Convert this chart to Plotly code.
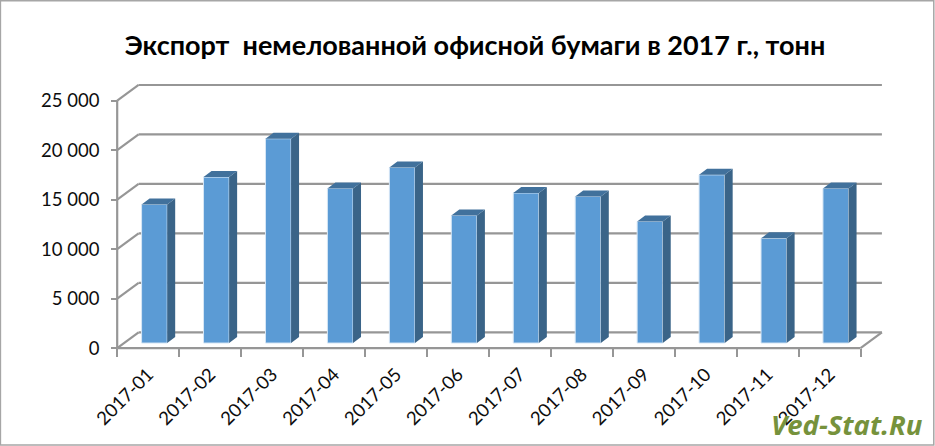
import plotly.graph_objects as go

months = ["2017-01","2017-02","2017-03","2017-04","2017-05","2017-06",
          "2017-07","2017-08","2017-09","2017-10","2017-11","2017-12"]
tonnes = [14010,16770,20650,15630,17750,12900,15170,14820,12290,17000,10580,15630]
y_ticks = [0,5000,10000,15000,20000,25000]
y_labels = ["0","5 000","10 000","15 000","20 000","25 000"]

W, H = 935, 446
PX_X = 61.95          # pixels per category
PX_Y = 49.5 / 5000    # pixels per tonne
X0_PX, Y0_PX = 117.3, 348.0

wall_dx = 21.4 / PX_X
wall_dy = 15.7 / PX_Y
bar_left = 24.4 / PX_X
bar_w = 25.6 / PX_X
bar_base = 5.0 / PX_Y
bar_dx = 8.0 / PX_X
bar_dy = 6.0 / PX_Y

x_lo, x_hi = -0.1, 12 + wall_dx + 0.05
y_lo, y_hi = -400, 25000 + wall_dy + 200
plot_w = (x_hi - x_lo) * PX_X
plot_h = (y_hi - y_lo) * PX_Y
m_l = X0_PX + x_lo * PX_X
m_t = Y0_PX - y_hi * PX_Y
m_r = W - m_l - plot_w
m_b = H - m_t - plot_h

GRID = "#969696"
shapes = []
def seg(x0, y0, x1, y1, w=2.2):
    shapes.append(dict(type="line", xref="x", yref="y", x0=x0, y0=y0, x1=x1, y1=y1,
                       line=dict(color=GRID, width=w), layer="below"))
for v in y_ticks:
    seg(0, v, wall_dx, v + wall_dy)
    seg(wall_dx, v + wall_dy, 12 + wall_dx, v + wall_dy)
seg(0, 0, 0, 25000)
seg(0, 0, 12, 0)
seg(12, 0, 12 + wall_dx, wall_dy)
shapes.append(dict(type="rect", xref="paper", yref="paper",
                   x0=(0.5 - m_l) / plot_w, x1=(W - 1 - m_l) / plot_w,
                   y0=(H - m_b - (H - 1)) / plot_h, y1=(H - m_b - 0.5) / plot_h,
                   line=dict(color="#a6a6a6", width=1.5), layer="below"))

lefts = [i + bar_left for i in range(len(months))]
centers = [l + bar_w / 2 for l in lefts]

side_x, side_y, top_x, top_y = [], [], [], []
for l, v in zip(lefts, tonnes):
    r = l + bar_w
    side_x += [r, r + bar_dx, r + bar_dx, r, r, None]
    side_y += [bar_base, bar_base + bar_dy, v + bar_base + bar_dy, v + bar_base, bar_base, None]
    top_x += [l, l + bar_dx, r + bar_dx, r, l, None]
    top_y += [v + bar_base, v + bar_base + bar_dy, v + bar_base + bar_dy, v + bar_base, v + bar_base, None]

fig = go.Figure()
fig.add_bar(x=centers, y=tonnes, base=bar_base, width=bar_w,
            marker=dict(color="#5B9BD5", line=dict(color="#d6e6f5", width=1)),
            name="Экспорт", hoverinfo="skip")
fig.add_scatter(x=side_x, y=side_y, mode="lines", fill="toself", fillcolor="#3A6488",
                line=dict(width=0), hoverinfo="skip", showlegend=False)
fig.add_scatter(x=top_x, y=top_y, mode="lines", fill="toself", fillcolor="#41719C",
                line=dict(width=0), hoverinfo="skip", showlegend=False)

fig.update_layout(
    width=W, height=H, autosize=False, showlegend=False,
    margin=dict(l=m_l, r=m_r, t=m_t, b=m_b, pad=0, autoexpand=False),
    paper_bgcolor="white", plot_bgcolor="white",
    font=dict(family="Lato", color="#0d0d0d"),
    title=dict(text="<b>Экспорт  немелованной офисной бумаги в 2017 г., тонн</b>",
               x=475 / W, xanchor="center", xref="container",
               y=1 - 46 / H, yanchor="middle", yref="container",
               font=dict(family="Lato", size=27, color="#000000")),
    shapes=shapes,
    xaxis=dict(range=[x_lo, x_hi], showgrid=False, zeroline=False, showline=False,
               anchor="free", position=(0 - y_lo) / (y_hi - y_lo),
               tickmode="array", tickvals=[i + 0.5 for i in range(12)], ticktext=months,
               ticks="", tickangle=-45, ticklabelstandoff=11,
               tickfont=dict(size=18.5, color="#0d0d0d"),
               minor=dict(tickmode="array", tickvals=list(range(13)), ticks="outside",
                          ticklen=8, tickwidth=1.5, tickcolor=GRID, showgrid=False)),
    yaxis=dict(range=[y_lo, y_hi], showgrid=False, zeroline=False, showline=False,
               anchor="free", position=(0 - x_lo) / (x_hi - x_lo),
               tickmode="array", tickvals=y_ticks, ticktext=y_labels,
               ticks="outside", ticklen=6, tickwidth=1.5, tickcolor=GRID,
               ticklabelstandoff=8,
               tickfont=dict(size=18.5, color="#0d0d0d")),
    annotations=[dict(text="<b><i>Ved-Stat.Ru</i></b>", xref="paper", yref="paper",
                      x=(847 - m_l) / plot_w, y=(H - m_b - 424.5) / plot_h,
                      xanchor="center", yanchor="middle", showarrow=False,
                      font=dict(family="Open Sans", size=27.5, color="#76923C"))],
)
fig.write_html("out.html", post_script="document.body.style.margin='0';",
               config=dict(displayModeBar=False))
